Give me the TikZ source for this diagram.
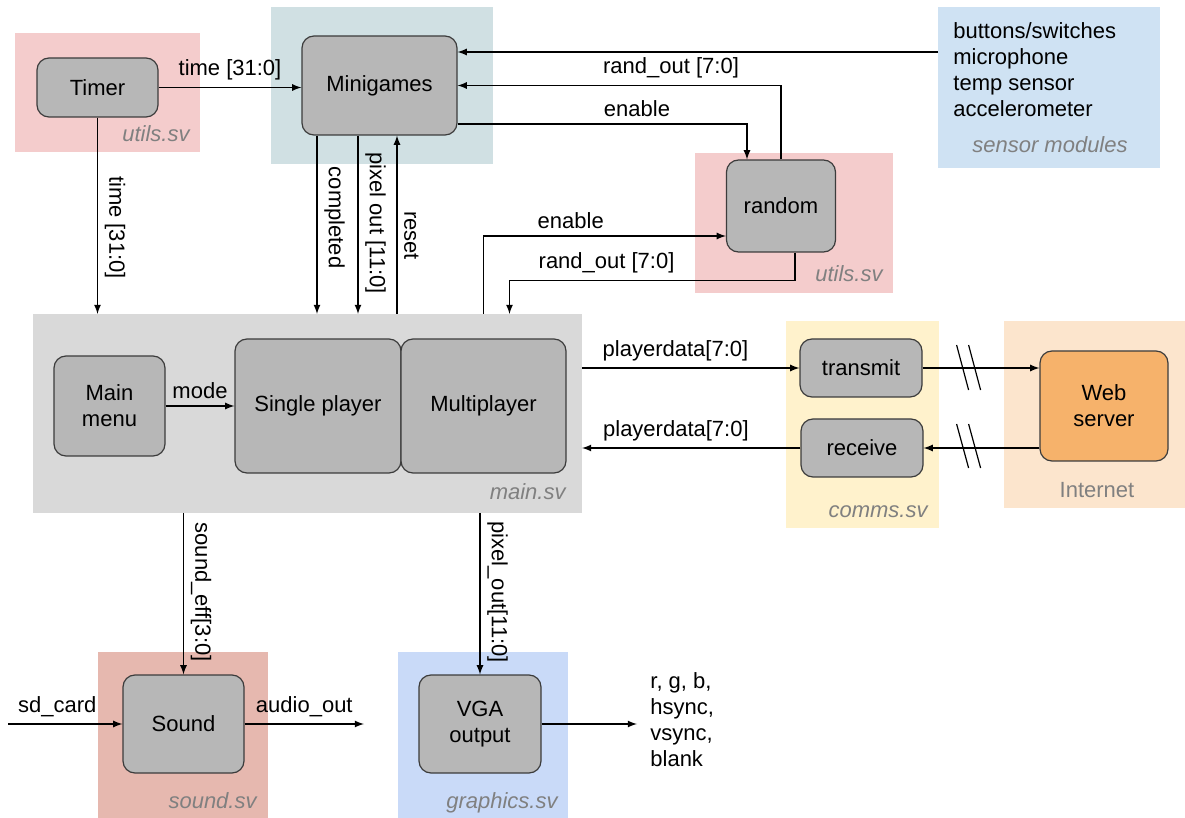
\documentclass[tikz,border=0pt]{standalone}
\usepackage{fontspec}
\setmainfont{Liberation Sans}
\usetikzlibrary{calc}

\definecolor{modgray}{HTML}{B7B7B7}
\definecolor{modline}{HTML}{3C3C3C}
\definecolor{labelgray}{HTML}{808080}
\definecolor{utilpink}{HTML}{F4CCCC}
\definecolor{gamesblue}{HTML}{D0E0E3}
\definecolor{sensblue}{HTML}{CFE2F3}
\definecolor{maingray}{HTML}{D9D9D9}
\definecolor{commsyellow}{HTML}{FFF2CC}
\definecolor{netorange}{HTML}{FCE5CD}
\definecolor{soundred}{HTML}{E6B8AF}
\definecolor{gfxblue}{HTML}{C9DAF8}
\definecolor{weborange}{HTML}{F6B26B}

\tikzset{
  region/.style={inner sep=0pt, outer sep=0pt},
  module/.style={draw=modline, line width=0.6pt, rounded corners=6pt, fill=modgray, align=center, inner sep=2pt},
  arr/.style={-latex, line width=0.6pt},
  filelabel/.style={font=\fontsize{11}{13}\selectfont\itshape, text=labelgray, anchor=base east, inner sep=0pt},
  vlabel/.style={rotate=-90, anchor=south}
}

\begin{document}
\begin{tikzpicture}[x=0.5pt, y=-0.5pt, font=\fontsize{11}{13}\selectfont]
\useasboundingbox (0,0) rectangle (1185,818);

% file regions
\node[region, fill=utilpink, minimum width=92.5pt, minimum height=59.5pt] (tsv) at (107.5,92.5) {};
\node[region, fill=gamesblue, minimum width=111pt, minimum height=78.5pt] (msv) at (382,85.5) {};
\node[region, fill=sensblue, minimum width=111pt, minimum height=80.5pt] (ssv) at (1049,87.5) {};
\node[region, fill=utilpink, minimum width=99pt, minimum height=70pt] (rsv) at (794,223) {};
\node[region, fill=maingray, minimum width=274.5pt, minimum height=99.5pt] (mainsv) at (307.5,413.5) {};
\node[region, fill=commsyellow, minimum width=76.5pt, minimum height=103.5pt] (csv) at (862.5,424.5) {};
\node[region, fill=netorange, minimum width=90.5pt, minimum height=93.5pt] (isv) at (1094.5,414.5) {};
\node[region, fill=soundred, minimum width=85pt, minimum height=83pt] (sdsv) at (183,735) {};
\node[region, fill=gfxblue, minimum width=85pt, minimum height=83pt] (gsv) at (483,735) {};

\node[filelabel] (tsvlbl) at ($(tsv.south east)+(-10,-10)$) {utils.sv};
\node[filelabel] (rsvlbl) at ($(rsv.south east)+(-10,-11)$) {utils.sv};
\node[filelabel] (mainlbl) at ($(mainsv.south east)+(-16,-13)$) {main.sv};
\node[filelabel] (csvlbl) at ($(csv.south east)+(-11,-11)$) {comms.sv};
\node[filelabel] (sdlbl) at ($(sdsv.south east)+(-11,-10)$) {sound.sv};
\node[filelabel] (glbl) at ($(gsv.south east)+(-10,-10)$) {graphics.sv};
\node[filelabel, anchor=base] (ssvlbl) at ($(ssv.south)+(1,-15)$) {sensor modules};
\node[filelabel, font=\fontsize{11}{13}\selectfont, anchor=base] (isvlbl) at ($(isv.south)+(2.5,-10)$) {Internet};
\node[anchor=north west, align=left, inner sep=0pt] (senstxt) at ($(ssv.north west)+(15,15)$)
  {buttons/switches\\microphone\\temp sensor\\accelerometer};

% modules
\node[module, minimum width=60.5pt, minimum height=29.5pt] (timer) at (97.5,87.5) {Timer};
\node[module, minimum width=77.5pt, minimum height=49.5pt] (mini) at (379.5,85.5) {Minigames};
\node[module, minimum width=54.5pt, minimum height=46pt] (rnd) at (781,206) {random};
\node[module, minimum width=55.5pt, minimum height=50pt] (menu) at (109.5,406) {Main\\menu};
\node[module, minimum width=83pt, minimum height=67pt] (single) at (318,406) {Single player};
\node[module, minimum width=82.5pt, minimum height=67pt] (multi) at (483.5,406) {Multiplayer};
\node[module, minimum width=61pt, minimum height=29pt] (tx) at (861,368) {transmit};
\node[module, minimum width=61pt, minimum height=29pt] (rx) at (862,448) {receive};
\node[module, fill=weborange, minimum width=64pt, minimum height=55pt] (web) at (1104,406) {Web\\server};
\node[module, minimum width=60.5pt, minimum height=49pt] (snd) at (183.5,724) {Sound};
\node[module, minimum width=61pt, minimum height=49pt] (vga) at (480,724) {VGA\\output};
\node[anchor=west, align=left, inner sep=6.5pt] (sig) at (637,720) {r, g, b,\\hsync,\\vsync,\\blank};

% tap points
\path (mini.south) ++(-62.5,0) coordinate (cmpl) ++(41,0) coordinate (pixo) ++(39,0) coordinate (rst);
\path (mini.east) ++(0,-33.5) coordinate (sens);
\path (mini.east) ++(0,38.5) coordinate (enout);
\path (mainsv.north -| multi.north) ++(26,0) coordinate (randin);
\coordinate (sdin) at (8,724);
\coordinate (aout) at (364,724);

% timer and minigames
\draw[arr] (timer.east) -- node[above]{time [31:0]} (timer.east -| mini.west);
\draw[arr] (timer.south) -- node[vlabel, pos=0.56]{time [31:0]} (timer.south |- mainsv.north);
\draw[arr] (cmpl) -- node[vlabel, pos=0.46]{completed} (cmpl |- mainsv.north);
\draw[arr] (pixo) -- node[vlabel, pos=0.49]{pixel out [11:0]} (pixo |- mainsv.north);
\draw[arr] (rst |- mainsv.north) -- node[vlabel, pos=0.44]{reset} (rst);
\draw[arr] (ssv.west |- sens) -- (sens);
\draw[arr] (rnd.north) |- node[pos=0.67, above]{rand\_out [7:0]} (mini.east);
\draw[arr] (enout) -| node[pos=0.31, above]{enable} ([xshift=-17pt]rnd.north);

% random and main
\draw[arr] (mainsv.north -| multi.north) |- node[pos=0.68, above]{enable} ([yshift=-15pt]rnd.west);
\draw[arr] ([xshift=7pt]rnd.south) -- ++(0,28) -| node[pos=0.33, above]{rand\_out [7:0]} (randin);
\draw[arr] (menu) -- node[above]{mode} (single);

% comms
\draw[arr] (mainsv.east |- tx) -- node[above, pos=0.43]{playerdata[7:0]} (tx);
\draw[arr] (rx) -- node[above, pos=0.57]{playerdata[7:0]} (mainsv.east |- rx);
\draw[arr] (tx) -- (tx -| web.west);
\draw[arr] (web.west |- rx) -- (rx);
\foreach \s in {0,12}
  {
  \draw[line width=0.6pt] ($(tx.east)+(34+\s,-23)$) -- ++(12,45);
  \draw[line width=0.6pt] ($(rx.east)+(33+\s,-24)$) -- ++(12,44);
  }

% sound and graphics
\draw[arr] (snd.north |- mainsv.south) -- node[vlabel, pos=0.49]{sound\_eff[3:0]} (snd.north);
\draw[arr] (vga.north |- mainsv.south) -- node[vlabel, pos=0.49]{pixel\_out[11:0]} (vga.north);
\draw[arr] (sdin) -- node[above, pos=0.43]{sd\_card} (snd);
\draw[arr] (snd) -- node[above]{audio\_out} (aout);
\draw[arr] (vga) -- (vga -| sig.west);
\end{tikzpicture}
\end{document}
